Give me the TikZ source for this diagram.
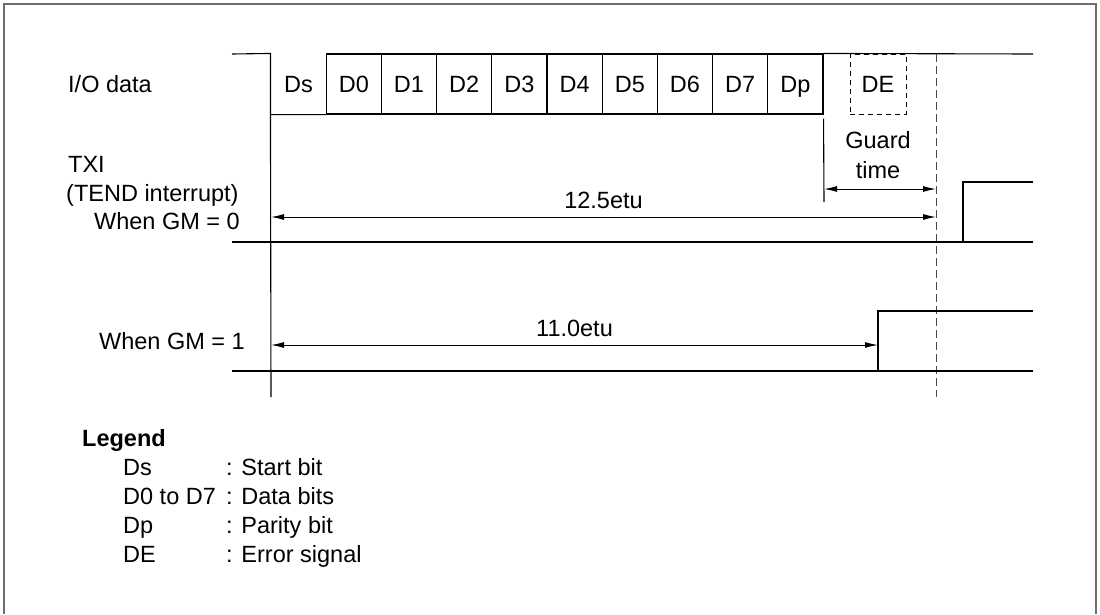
\documentclass[tikz,border=0pt]{standalone}
\usepackage{fontspec}
\setmainfont{Liberation Sans}
\usepackage{tikz}
\usetikzlibrary{arrows.meta, positioning, calc}
\definecolor{frameGray}{RGB}{110,110,110}
\tikzset{
  td/frame/.style={draw=frameGray, line width=1.2pt},
  td/sig/.style={draw=black, line width=1.1pt},
  td/bit/.style={rectangle, draw=black, line width=1.1pt, inner sep=0pt,
    minimum width=55.2pt, minimum height=60pt,
    text height=16.8pt, text depth=0pt},
  td/err/.style={rectangle, draw=black, line width=1pt, inner sep=0pt,
    minimum width=56pt, minimum height=60pt, dash pattern=on 5pt off 4pt,
    text height=16.8pt, text depth=0pt},
  td/guide/.style={draw=black!70, line width=1pt, dash pattern=on 8pt off 4pt},
  td/dim/.style={{Latex[length=13pt,width=6pt]}-{Latex[length=13pt,width=6pt]},
    line width=1pt, draw=black},
  td/lbl/.style={inner sep=0pt, align=left, text height=16.8pt, text depth=0pt},
  td/key/.style={inner sep=0pt, anchor=west, text height=16.8pt, text depth=0pt}
}

\begin{document}
\begin{tikzpicture}[x=1pt, y=-1pt, font=\fontsize{23.5}{29}\selectfont]
  \useasboundingbox (0,0) rectangle (1100,614);
  \draw[td/frame] (4,614) -- (4,4) -- (1096,4) -- (1096,614);

  % signal names
  \node[td/lbl, anchor=west] (io) at (68,84) {I/O data};
  \node[td/lbl, anchor=west] (txi) at (68,164) {TXI};
  \node[td/lbl, anchor=west] (tend) at (66,193) {(TEND interrupt)};
  \node[td/lbl, anchor=east] (gm0) at (240,221) {When GM = 0};
  \node[td/lbl, anchor=east] (gm1) at (245,341) {When GM = 1};

  % frame of bits
  \node[td/bit, draw=none] (ds) at (298.6,84) {Ds};
  \foreach \bitname [count=\i] in {D0,D1,D2,D3,D4,D5,D6,D7,Dp}
    \node[td/bit] (b\i) at ({271+55.2*\i+27.6},84) {\bitname};
  \node[td/err] (de) at (878,84) {DE};

  \coordinate (ioL) at (232,54);
  \coordinate (ioR) at (1033,54);
  \coordinate (startB) at (271,397);
  \coordinate (guardT) at (936,54);
  \coordinate (guardB) at (936,397);
  \coordinate (parB) at (824,202);

  \draw[td/sig] (ioL) -- (ds.north west) -- (ds.south west) -- (ds.south east);
  \draw[td/sig] (b9.north east) -- (ioR);
  \draw[td/sig] (ds.south west) -- (startB);
  \draw[td/sig] ([yshift=-4pt]b9.south east) -- (parB);
  \draw[td/guide] (guardT) -- (guardB);

  % TXI waveforms
  \coordinate (t0L) at (232,242);
  \coordinate (t0R) at (1033,182);
  \coordinate (t1L) at (232,371);
  \coordinate (t1R) at (1033,311);
  \draw[td/sig] (t0L) -- (963,242) -- (963,182) -- (t0R);
  \draw[td/sig] (1033,242) -- (963,242);
  \draw[td/sig] (t1L) -- (878,371) -- (878,311) -- (t1R);
  \draw[td/sig] (1033,371) -- (878,371);

  % timings
  \coordinate (g1) at (824,189);
  \coordinate (g2) at (936,189);
  \coordinate (e1) at (271,217);
  \coordinate (e2) at (936,217);
  \coordinate (f1) at (271,345);
  \coordinate (f2) at (878,345);
  \draw[td/dim] (g1) -- (g2);
  \node[align=center, inner sep=0pt] (guard) at (878,155) {Guard\\[1pt]time};
  \draw[td/dim] (e1) -- node[td/lbl, above=8pt] (etu0) {12.5etu} (e2);
  \draw[td/dim] (f1) -- node[td/lbl, above=8pt] (etu1) {11.0etu} (f2);

  % legend
  \node[td/key, font=\fontsize{23.5}{29}\selectfont\bfseries] (leg) at (82,438) {Legend};
  \foreach \sym/\txt [count=\k] in {Ds/Start bit, D0 to D7/Data bits,
      Dp/Parity bit, DE/Error signal} {
    \node[td/key] (ks\k) at (123,{438+29*\k}) {\sym};
    \node[td/key] (kt\k) at (226,{438+29*\k}) {: \txt};
  }
\end{tikzpicture}
\end{document}
